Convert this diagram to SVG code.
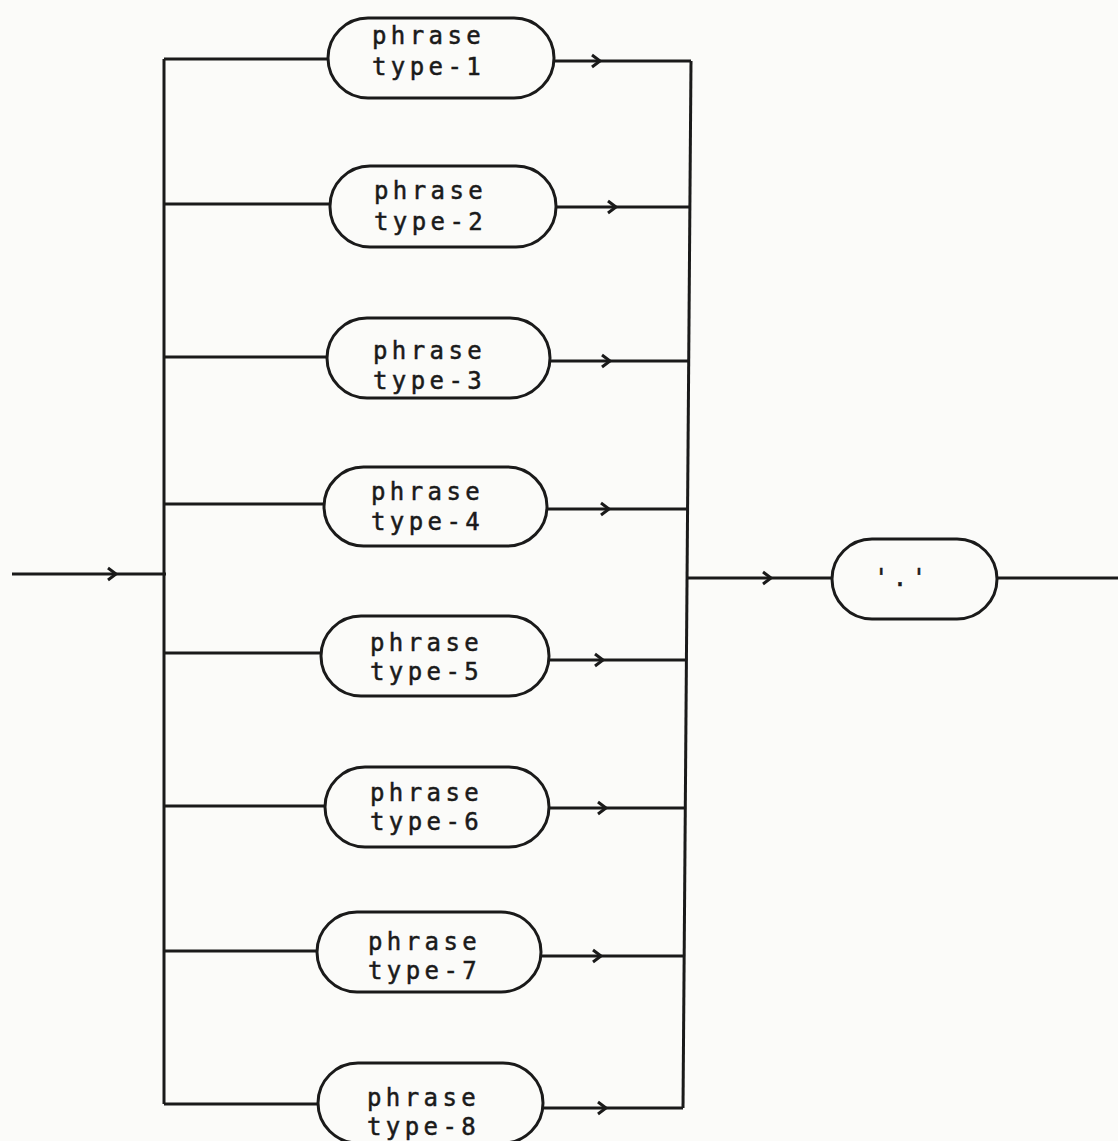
<svg xmlns="http://www.w3.org/2000/svg" width="1118" height="1141" viewBox="0 0 1118 1141">
<style>
.n{fill:none;stroke:#1a1a1a;stroke-width:3}
.c{fill:none;stroke:#1a1a1a;stroke-width:3}
.a{fill:none;stroke:#1a1a1a;stroke-width:3;stroke-linejoin:miter}
text{font-family:"DejaVu Sans Mono","Liberation Mono",monospace;font-size:24px;letter-spacing:4.4px;fill:#1a1a1a;stroke:#1a1a1a;stroke-width:0.5}
</style>
<defs>
<path id="arr" class="a" d="M-8,-6 L0,0 L-8,6"/>
</defs>
<rect width="1118" height="1141" fill="#fbfbf9"/>
<g id="connectors">
<line class="c" x1="12" y1="574" x2="166" y2="574"/>
<use href="#arr" x="116" y="574"/>
<line class="c" x1="164" y1="59" x2="164" y2="1104"/>
<line class="c" x1="691" y1="61" x2="683" y2="1108"/>
<line class="c" x1="164" y1="59" x2="328" y2="59"/>
<line class="c" x1="554" y1="61" x2="691" y2="61"/>
<use href="#arr" x="600" y="61"/>
<line class="c" x1="164" y1="204" x2="330" y2="204"/>
<line class="c" x1="556" y1="207" x2="690" y2="207"/>
<use href="#arr" x="616" y="207"/>
<line class="c" x1="164" y1="357" x2="327" y2="357"/>
<line class="c" x1="550" y1="361" x2="689" y2="361"/>
<use href="#arr" x="610" y="361"/>
<line class="c" x1="164" y1="504" x2="324" y2="504"/>
<line class="c" x1="547" y1="509" x2="688" y2="509"/>
<use href="#arr" x="609" y="509"/>
<line class="c" x1="686" y1="578" x2="832" y2="578"/>
<use href="#arr" x="771" y="578"/>
<line class="c" x1="997" y1="578" x2="1118" y2="578"/>
<line class="c" x1="164" y1="653" x2="321" y2="653"/>
<line class="c" x1="549" y1="660" x2="686" y2="660"/>
<use href="#arr" x="603" y="660"/>
<line class="c" x1="164" y1="806" x2="325" y2="806"/>
<line class="c" x1="549" y1="808" x2="685" y2="808"/>
<use href="#arr" x="606" y="808"/>
<line class="c" x1="164" y1="951" x2="317" y2="951"/>
<line class="c" x1="541" y1="956" x2="684" y2="956"/>
<use href="#arr" x="601" y="956"/>
<line class="c" x1="164" y1="1104" x2="318" y2="1104"/>
<line class="c" x1="543" y1="1108" x2="683" y2="1108"/>
<use href="#arr" x="606" y="1108"/>
</g>
<g id="node1"><rect class="n" x="328" y="18" width="226" height="80" rx="40"/><text x="372" y="44">phrase</text><text x="372" y="75">type-1</text></g>
<g id="node2"><rect class="n" x="330" y="166" width="226" height="81" rx="40"/><text x="374" y="199">phrase</text><text x="374" y="230">type-2</text></g>
<g id="node3"><rect class="n" x="327" y="318" width="223" height="80" rx="40"/><text x="373" y="359">phrase</text><text x="373" y="389">type-3</text></g>
<g id="node4"><rect class="n" x="324" y="467" width="223" height="79" rx="39.5"/><text x="371" y="500">phrase</text><text x="371" y="530">type-4</text></g>
<g id="node5"><rect class="n" x="321" y="616" width="228" height="80" rx="40"/><text x="370" y="651">phrase</text><text x="370" y="680">type-5</text></g>
<g id="node6"><rect class="n" x="325" y="767" width="224" height="80" rx="40"/><text x="370" y="801">phrase</text><text x="370" y="830">type-6</text></g>
<g id="node7"><rect class="n" x="317" y="912" width="224" height="80" rx="40"/><text x="368" y="950">phrase</text><text x="368" y="979">type-7</text></g>
<g id="node8"><rect class="n" x="318" y="1063" width="225" height="80" rx="40"/><text x="367" y="1106">phrase</text><text x="367" y="1135">type-8</text></g>
<g id="node9"><rect class="n" x="832" y="539" width="165" height="80" rx="40"/><text x="874" y="586">'.'</text></g>
</svg>
